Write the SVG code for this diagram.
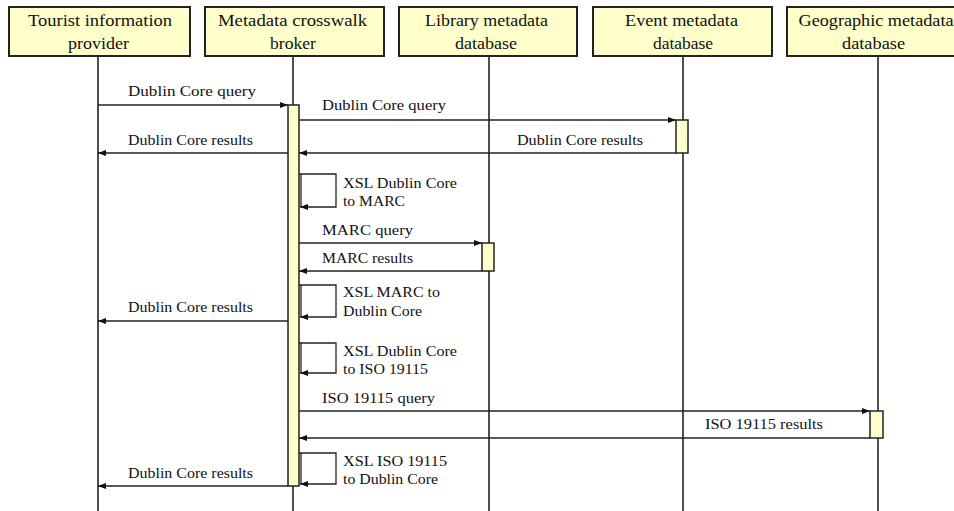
<svg xmlns="http://www.w3.org/2000/svg" width="954" height="511" viewBox="0 0 954 511">
<style>
.hdr{fill:#FFFFCC;stroke:#222;stroke-width:2}
.ht{font-family:"Liberation Serif","Times New Roman",serif;font-size:16px;fill:#111;text-anchor:middle}
.lt{font-family:"Liberation Serif","Times New Roman",serif;font-size:14px;fill:#111}
.life{stroke:#222;stroke-width:1.6;fill:none}
.act{fill:#FFFFCC;stroke:#222;stroke-width:1.5}
.msg{stroke:#222;stroke-width:1.3;fill:none}
.self{stroke:#222;stroke-width:1.3;fill:none}
</style>
<defs>
<marker id="ah" viewBox="0 0 8 6" refX="8" refY="3" markerWidth="8" markerHeight="6" markerUnits="userSpaceOnUse" orient="auto">
<path d="M0,0 L8,3 L0,6 Z" fill="#111"/>
</marker>
</defs>
<rect width="954" height="511" fill="#fff"/>
<g id="lifelines">
<line class="life" x1="98" y1="56" x2="98" y2="511"/>
<line class="life" x1="293" y1="56" x2="293" y2="511"/>
<line class="life" x1="489" y1="56" x2="489" y2="511"/>
<line class="life" x1="683" y1="56" x2="683" y2="511"/>
<line class="life" x1="878" y1="56" x2="878" y2="511"/>
</g>
<g id="node-tourist">
<rect class="hdr" x="9" y="7" width="181" height="49"/>
<text class="ht" x="100" y="26" textLength="144" lengthAdjust="spacingAndGlyphs">Tourist information</text>
<text class="ht" x="98.5" y="49" textLength="61" lengthAdjust="spacingAndGlyphs">provider</text>
</g>
<g id="node-broker">
<rect class="hdr" x="205" y="7" width="179" height="49"/>
<text class="ht" x="292.5" y="26" textLength="149" lengthAdjust="spacingAndGlyphs">Metadata crosswalk</text>
<text class="ht" x="293" y="49" textLength="46" lengthAdjust="spacingAndGlyphs">broker</text>
</g>
<g id="node-library">
<rect class="hdr" x="399" y="7" width="178" height="49"/>
<text class="ht" x="486.5" y="26" textLength="123" lengthAdjust="spacingAndGlyphs">Library metadata</text>
<text class="ht" x="486" y="49" textLength="62" lengthAdjust="spacingAndGlyphs">database</text>
</g>
<g id="node-event">
<rect class="hdr" x="593" y="7" width="179" height="49"/>
<text class="ht" x="681.5" y="26" textLength="113" lengthAdjust="spacingAndGlyphs">Event metadata</text>
<text class="ht" x="683" y="49" textLength="60" lengthAdjust="spacingAndGlyphs">database</text>
</g>
<g id="node-geo">
<rect class="hdr" x="787" y="7" width="180" height="49"/>
<text class="ht" x="876" y="26" textLength="155" lengthAdjust="spacingAndGlyphs">Geographic metadata</text>
<text class="ht" x="873.5" y="49" textLength="63" lengthAdjust="spacingAndGlyphs">database</text>
</g>
<g id="activations">
<rect class="act" x="288" y="105" width="11" height="381"/>
<rect class="act" x="676" y="120" width="12" height="33"/>
<rect class="act" x="482" y="243" width="12" height="28"/>
<rect class="act" x="870" y="411" width="13" height="27"/>
</g>
<g id="connectors">
<line class="msg" x1="98" y1="105" x2="288" y2="105" marker-end="url(#ah)"/>
<text class="lt" x="128" y="96" textLength="128" lengthAdjust="spacingAndGlyphs">Dublin Core query</text>
<line class="msg" x1="299" y1="120" x2="676" y2="120" marker-end="url(#ah)"/>
<text class="lt" x="322" y="110" textLength="124" lengthAdjust="spacingAndGlyphs">Dublin Core query</text>
<line class="msg" x1="676" y1="153" x2="299" y2="153" marker-end="url(#ah)"/>
<text class="lt" x="517" y="145" textLength="126" lengthAdjust="spacingAndGlyphs">Dublin Core results</text>
<line class="msg" x1="288" y1="153" x2="98" y2="153" marker-end="url(#ah)"/>
<text class="lt" x="128" y="145" textLength="125" lengthAdjust="spacingAndGlyphs">Dublin Core results</text>

<path class="self" d="M299,174 H336 V207 H300" marker-end="url(#ah)"/>
<line class="self" x1="301" y1="174" x2="301" y2="207"/>
<text class="lt" x="343" y="188" textLength="114" lengthAdjust="spacingAndGlyphs">XSL Dublin Core</text>
<text class="lt" x="343" y="206" textLength="62" lengthAdjust="spacingAndGlyphs">to MARC</text>

<line class="msg" x1="299" y1="243" x2="482" y2="243" marker-end="url(#ah)"/>
<text class="lt" x="322" y="235" textLength="91" lengthAdjust="spacingAndGlyphs">MARC query</text>
<line class="msg" x1="482" y1="271" x2="299" y2="271" marker-end="url(#ah)"/>
<text class="lt" x="322" y="263" textLength="91" lengthAdjust="spacingAndGlyphs">MARC results</text>

<path class="self" d="M299,285 H336 V317 H300" marker-end="url(#ah)"/>
<line class="self" x1="301" y1="285" x2="301" y2="317"/>
<text class="lt" x="343" y="297" textLength="97" lengthAdjust="spacingAndGlyphs">XSL MARC to</text>
<text class="lt" x="343" y="316" textLength="79" lengthAdjust="spacingAndGlyphs">Dublin Core</text>

<line class="msg" x1="288" y1="321" x2="98" y2="321" marker-end="url(#ah)"/>
<text class="lt" x="128" y="312" textLength="125" lengthAdjust="spacingAndGlyphs">Dublin Core results</text>

<path class="self" d="M299,343 H336 V373 H300" marker-end="url(#ah)"/>
<line class="self" x1="301" y1="343" x2="301" y2="373"/>
<text class="lt" x="343" y="356" textLength="114" lengthAdjust="spacingAndGlyphs">XSL Dublin Core</text>
<text class="lt" x="343" y="374" textLength="85" lengthAdjust="spacingAndGlyphs">to ISO 19115</text>

<line class="msg" x1="299" y1="411" x2="870" y2="411" marker-end="url(#ah)"/>
<text class="lt" x="322" y="403" textLength="113" lengthAdjust="spacingAndGlyphs">ISO 19115 query</text>
<line class="msg" x1="870" y1="438" x2="299" y2="438" marker-end="url(#ah)"/>
<text class="lt" x="705" y="429" textLength="118" lengthAdjust="spacingAndGlyphs">ISO 19115 results</text>

<path class="self" d="M299,453 H336 V484 H300" marker-end="url(#ah)"/>
<line class="self" x1="301" y1="453" x2="301" y2="484"/>
<text class="lt" x="343" y="466" textLength="104" lengthAdjust="spacingAndGlyphs">XSL ISO 19115</text>
<text class="lt" x="343" y="484" textLength="95" lengthAdjust="spacingAndGlyphs">to Dublin Core</text>

<line class="msg" x1="288" y1="486" x2="98" y2="486" marker-end="url(#ah)"/>
<text class="lt" x="128" y="478" textLength="125" lengthAdjust="spacingAndGlyphs">Dublin Core results</text>
</g>
</svg>
